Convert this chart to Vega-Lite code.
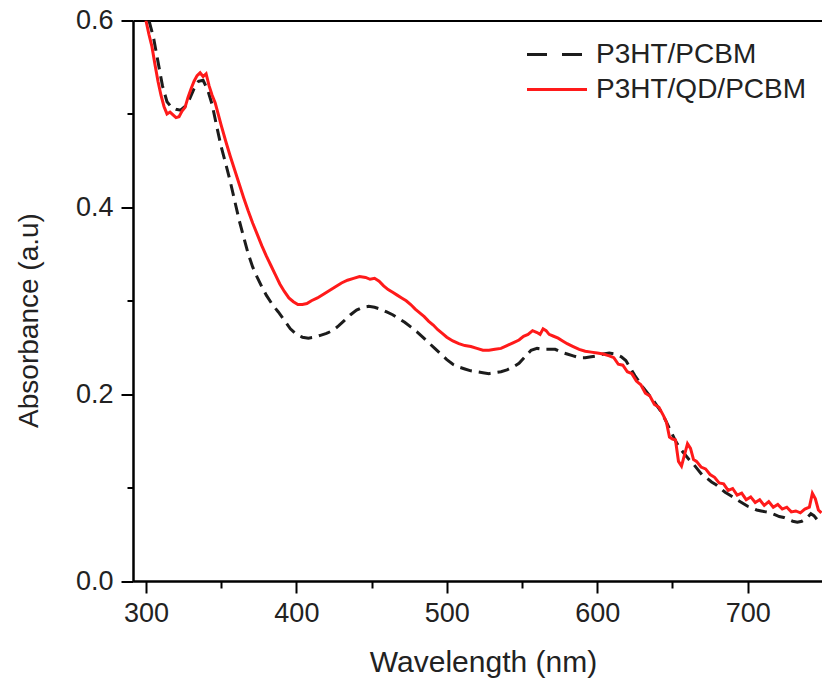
{
  "$schema": "https://vega.github.io/schema/vega-lite/v6.json",
  "autosize": "none",
  "width": 689,
  "height": 560.5,
  "padding": {"left": 133, "top": 20.5, "right": 0, "bottom": 103},
  "background": "white",
  "config": {
    "view": {"stroke": null},
    "font": "Liberation Sans",
    "axis": {
      "domainColor": "#000",
      "domainWidth": 2,
      "tickColor": "#000",
      "tickWidth": 2,
      "labelFont": "Liberation Sans",
      "labelFontSize": 27,
      "labelColor": "#222",
      "titleFont": "Liberation Sans",
      "titleFontWeight": "normal",
      "titleColor": "#222",
      "grid": false
    }
  },
  "datasets": {
    "black": [
      {"wl": 302, "abs": 0.600, "series": "P3HT/PCBM"},
      {"wl": 305, "abs": 0.582, "series": "P3HT/PCBM"},
      {"wl": 308, "abs": 0.556, "series": "P3HT/PCBM"},
      {"wl": 311, "abs": 0.530, "series": "P3HT/PCBM"},
      {"wl": 314, "abs": 0.513, "series": "P3HT/PCBM"},
      {"wl": 317, "abs": 0.507, "series": "P3HT/PCBM"},
      {"wl": 320, "abs": 0.505, "series": "P3HT/PCBM"},
      {"wl": 323, "abs": 0.504, "series": "P3HT/PCBM"},
      {"wl": 326, "abs": 0.508, "series": "P3HT/PCBM"},
      {"wl": 329, "abs": 0.516, "series": "P3HT/PCBM"},
      {"wl": 332, "abs": 0.527, "series": "P3HT/PCBM"},
      {"wl": 335, "abs": 0.535, "series": "P3HT/PCBM"},
      {"wl": 338, "abs": 0.536, "series": "P3HT/PCBM"},
      {"wl": 341, "abs": 0.526, "series": "P3HT/PCBM"},
      {"wl": 344, "abs": 0.510, "series": "P3HT/PCBM"},
      {"wl": 347, "abs": 0.487, "series": "P3HT/PCBM"},
      {"wl": 350, "abs": 0.465, "series": "P3HT/PCBM"},
      {"wl": 353, "abs": 0.447, "series": "P3HT/PCBM"},
      {"wl": 356, "abs": 0.428, "series": "P3HT/PCBM"},
      {"wl": 359, "abs": 0.407, "series": "P3HT/PCBM"},
      {"wl": 362, "abs": 0.386, "series": "P3HT/PCBM"},
      {"wl": 365, "abs": 0.368, "series": "P3HT/PCBM"},
      {"wl": 368, "abs": 0.350, "series": "P3HT/PCBM"},
      {"wl": 371, "abs": 0.336, "series": "P3HT/PCBM"},
      {"wl": 374, "abs": 0.325, "series": "P3HT/PCBM"},
      {"wl": 377, "abs": 0.315, "series": "P3HT/PCBM"},
      {"wl": 380, "abs": 0.306, "series": "P3HT/PCBM"},
      {"wl": 384, "abs": 0.296, "series": "P3HT/PCBM"},
      {"wl": 388, "abs": 0.288, "series": "P3HT/PCBM"},
      {"wl": 392, "abs": 0.279, "series": "P3HT/PCBM"},
      {"wl": 396, "abs": 0.270, "series": "P3HT/PCBM"},
      {"wl": 400, "abs": 0.264, "series": "P3HT/PCBM"},
      {"wl": 404, "abs": 0.261, "series": "P3HT/PCBM"},
      {"wl": 408, "abs": 0.260, "series": "P3HT/PCBM"},
      {"wl": 412, "abs": 0.261, "series": "P3HT/PCBM"},
      {"wl": 416, "abs": 0.263, "series": "P3HT/PCBM"},
      {"wl": 420, "abs": 0.265, "series": "P3HT/PCBM"},
      {"wl": 424, "abs": 0.268, "series": "P3HT/PCBM"},
      {"wl": 428, "abs": 0.273, "series": "P3HT/PCBM"},
      {"wl": 432, "abs": 0.279, "series": "P3HT/PCBM"},
      {"wl": 436, "abs": 0.285, "series": "P3HT/PCBM"},
      {"wl": 440, "abs": 0.290, "series": "P3HT/PCBM"},
      {"wl": 444, "abs": 0.293, "series": "P3HT/PCBM"},
      {"wl": 448, "abs": 0.294, "series": "P3HT/PCBM"},
      {"wl": 452, "abs": 0.293, "series": "P3HT/PCBM"},
      {"wl": 456, "abs": 0.291, "series": "P3HT/PCBM"},
      {"wl": 460, "abs": 0.288, "series": "P3HT/PCBM"},
      {"wl": 464, "abs": 0.285, "series": "P3HT/PCBM"},
      {"wl": 468, "abs": 0.281, "series": "P3HT/PCBM"},
      {"wl": 472, "abs": 0.277, "series": "P3HT/PCBM"},
      {"wl": 476, "abs": 0.272, "series": "P3HT/PCBM"},
      {"wl": 480, "abs": 0.267, "series": "P3HT/PCBM"},
      {"wl": 484, "abs": 0.261, "series": "P3HT/PCBM"},
      {"wl": 488, "abs": 0.255, "series": "P3HT/PCBM"},
      {"wl": 492, "abs": 0.249, "series": "P3HT/PCBM"},
      {"wl": 496, "abs": 0.243, "series": "P3HT/PCBM"},
      {"wl": 500, "abs": 0.237, "series": "P3HT/PCBM"},
      {"wl": 504, "abs": 0.232, "series": "P3HT/PCBM"},
      {"wl": 508, "abs": 0.229, "series": "P3HT/PCBM"},
      {"wl": 512, "abs": 0.227, "series": "P3HT/PCBM"},
      {"wl": 516, "abs": 0.225, "series": "P3HT/PCBM"},
      {"wl": 520, "abs": 0.224, "series": "P3HT/PCBM"},
      {"wl": 524, "abs": 0.223, "series": "P3HT/PCBM"},
      {"wl": 528, "abs": 0.222, "series": "P3HT/PCBM"},
      {"wl": 532, "abs": 0.223, "series": "P3HT/PCBM"},
      {"wl": 536, "abs": 0.224, "series": "P3HT/PCBM"},
      {"wl": 540, "abs": 0.226, "series": "P3HT/PCBM"},
      {"wl": 544, "abs": 0.229, "series": "P3HT/PCBM"},
      {"wl": 548, "abs": 0.233, "series": "P3HT/PCBM"},
      {"wl": 552, "abs": 0.240, "series": "P3HT/PCBM"},
      {"wl": 556, "abs": 0.247, "series": "P3HT/PCBM"},
      {"wl": 560, "abs": 0.249, "series": "P3HT/PCBM"},
      {"wl": 564, "abs": 0.248, "series": "P3HT/PCBM"},
      {"wl": 568, "abs": 0.248, "series": "P3HT/PCBM"},
      {"wl": 572, "abs": 0.248, "series": "P3HT/PCBM"},
      {"wl": 576, "abs": 0.245, "series": "P3HT/PCBM"},
      {"wl": 580, "abs": 0.243, "series": "P3HT/PCBM"},
      {"wl": 584, "abs": 0.241, "series": "P3HT/PCBM"},
      {"wl": 588, "abs": 0.239, "series": "P3HT/PCBM"},
      {"wl": 592, "abs": 0.239, "series": "P3HT/PCBM"},
      {"wl": 596, "abs": 0.240, "series": "P3HT/PCBM"},
      {"wl": 600, "abs": 0.241, "series": "P3HT/PCBM"},
      {"wl": 604, "abs": 0.243, "series": "P3HT/PCBM"},
      {"wl": 608, "abs": 0.244, "series": "P3HT/PCBM"},
      {"wl": 612, "abs": 0.243, "series": "P3HT/PCBM"},
      {"wl": 616, "abs": 0.240, "series": "P3HT/PCBM"},
      {"wl": 619, "abs": 0.236, "series": "P3HT/PCBM"},
      {"wl": 622, "abs": 0.228, "series": "P3HT/PCBM"},
      {"wl": 625, "abs": 0.220, "series": "P3HT/PCBM"},
      {"wl": 628, "abs": 0.213, "series": "P3HT/PCBM"},
      {"wl": 631, "abs": 0.206, "series": "P3HT/PCBM"},
      {"wl": 634, "abs": 0.200, "series": "P3HT/PCBM"},
      {"wl": 637, "abs": 0.194, "series": "P3HT/PCBM"},
      {"wl": 640, "abs": 0.187, "series": "P3HT/PCBM"},
      {"wl": 643, "abs": 0.180, "series": "P3HT/PCBM"},
      {"wl": 646, "abs": 0.170, "series": "P3HT/PCBM"},
      {"wl": 649, "abs": 0.160, "series": "P3HT/PCBM"},
      {"wl": 652, "abs": 0.150, "series": "P3HT/PCBM"},
      {"wl": 655, "abs": 0.142, "series": "P3HT/PCBM"},
      {"wl": 658, "abs": 0.136, "series": "P3HT/PCBM"},
      {"wl": 661, "abs": 0.130, "series": "P3HT/PCBM"},
      {"wl": 664, "abs": 0.125, "series": "P3HT/PCBM"},
      {"wl": 667, "abs": 0.119, "series": "P3HT/PCBM"},
      {"wl": 670, "abs": 0.113, "series": "P3HT/PCBM"},
      {"wl": 673, "abs": 0.110, "series": "P3HT/PCBM"},
      {"wl": 676, "abs": 0.106, "series": "P3HT/PCBM"},
      {"wl": 679, "abs": 0.103, "series": "P3HT/PCBM"},
      {"wl": 682, "abs": 0.099, "series": "P3HT/PCBM"},
      {"wl": 685, "abs": 0.095, "series": "P3HT/PCBM"},
      {"wl": 688, "abs": 0.092, "series": "P3HT/PCBM"},
      {"wl": 691, "abs": 0.089, "series": "P3HT/PCBM"},
      {"wl": 694, "abs": 0.086, "series": "P3HT/PCBM"},
      {"wl": 697, "abs": 0.083, "series": "P3HT/PCBM"},
      {"wl": 700, "abs": 0.080, "series": "P3HT/PCBM"},
      {"wl": 703, "abs": 0.078, "series": "P3HT/PCBM"},
      {"wl": 706, "abs": 0.076, "series": "P3HT/PCBM"},
      {"wl": 709, "abs": 0.075, "series": "P3HT/PCBM"},
      {"wl": 712, "abs": 0.074, "series": "P3HT/PCBM"},
      {"wl": 715, "abs": 0.073, "series": "P3HT/PCBM"},
      {"wl": 718, "abs": 0.071, "series": "P3HT/PCBM"},
      {"wl": 721, "abs": 0.069, "series": "P3HT/PCBM"},
      {"wl": 724, "abs": 0.068, "series": "P3HT/PCBM"},
      {"wl": 727, "abs": 0.066, "series": "P3HT/PCBM"},
      {"wl": 730, "abs": 0.064, "series": "P3HT/PCBM"},
      {"wl": 733, "abs": 0.063, "series": "P3HT/PCBM"},
      {"wl": 736, "abs": 0.064, "series": "P3HT/PCBM"},
      {"wl": 739, "abs": 0.067, "series": "P3HT/PCBM"},
      {"wl": 742, "abs": 0.072, "series": "P3HT/PCBM"},
      {"wl": 744, "abs": 0.070, "series": "P3HT/PCBM"},
      {"wl": 746, "abs": 0.066, "series": "P3HT/PCBM"},
      {"wl": 749, "abs": 0.066, "series": "P3HT/PCBM"}
    ],
    "red": [
      {"wl": 300, "abs": 0.600, "series": "P3HT/QD/PCBM"},
      {"wl": 302, "abs": 0.585, "series": "P3HT/QD/PCBM"},
      {"wl": 304, "abs": 0.572, "series": "P3HT/QD/PCBM"},
      {"wl": 306, "abs": 0.553, "series": "P3HT/QD/PCBM"},
      {"wl": 308, "abs": 0.535, "series": "P3HT/QD/PCBM"},
      {"wl": 310, "abs": 0.520, "series": "P3HT/QD/PCBM"},
      {"wl": 312, "abs": 0.508, "series": "P3HT/QD/PCBM"},
      {"wl": 314, "abs": 0.500, "series": "P3HT/QD/PCBM"},
      {"wl": 316, "abs": 0.502, "series": "P3HT/QD/PCBM"},
      {"wl": 318, "abs": 0.499, "series": "P3HT/QD/PCBM"},
      {"wl": 320, "abs": 0.496, "series": "P3HT/QD/PCBM"},
      {"wl": 322, "abs": 0.497, "series": "P3HT/QD/PCBM"},
      {"wl": 324, "abs": 0.503, "series": "P3HT/QD/PCBM"},
      {"wl": 326, "abs": 0.507, "series": "P3HT/QD/PCBM"},
      {"wl": 328, "abs": 0.518, "series": "P3HT/QD/PCBM"},
      {"wl": 330, "abs": 0.527, "series": "P3HT/QD/PCBM"},
      {"wl": 332, "abs": 0.535, "series": "P3HT/QD/PCBM"},
      {"wl": 334, "abs": 0.541, "series": "P3HT/QD/PCBM"},
      {"wl": 336, "abs": 0.544, "series": "P3HT/QD/PCBM"},
      {"wl": 338, "abs": 0.540, "series": "P3HT/QD/PCBM"},
      {"wl": 340, "abs": 0.543, "series": "P3HT/QD/PCBM"},
      {"wl": 342, "abs": 0.530, "series": "P3HT/QD/PCBM"},
      {"wl": 344, "abs": 0.520, "series": "P3HT/QD/PCBM"},
      {"wl": 346, "abs": 0.512, "series": "P3HT/QD/PCBM"},
      {"wl": 348, "abs": 0.500, "series": "P3HT/QD/PCBM"},
      {"wl": 350, "abs": 0.488, "series": "P3HT/QD/PCBM"},
      {"wl": 353, "abs": 0.471, "series": "P3HT/QD/PCBM"},
      {"wl": 356, "abs": 0.455, "series": "P3HT/QD/PCBM"},
      {"wl": 359, "abs": 0.440, "series": "P3HT/QD/PCBM"},
      {"wl": 362, "abs": 0.425, "series": "P3HT/QD/PCBM"},
      {"wl": 365, "abs": 0.410, "series": "P3HT/QD/PCBM"},
      {"wl": 368, "abs": 0.396, "series": "P3HT/QD/PCBM"},
      {"wl": 371, "abs": 0.383, "series": "P3HT/QD/PCBM"},
      {"wl": 374, "abs": 0.371, "series": "P3HT/QD/PCBM"},
      {"wl": 377, "abs": 0.359, "series": "P3HT/QD/PCBM"},
      {"wl": 380, "abs": 0.348, "series": "P3HT/QD/PCBM"},
      {"wl": 383, "abs": 0.338, "series": "P3HT/QD/PCBM"},
      {"wl": 386, "abs": 0.328, "series": "P3HT/QD/PCBM"},
      {"wl": 389, "abs": 0.318, "series": "P3HT/QD/PCBM"},
      {"wl": 392, "abs": 0.310, "series": "P3HT/QD/PCBM"},
      {"wl": 395, "abs": 0.303, "series": "P3HT/QD/PCBM"},
      {"wl": 398, "abs": 0.299, "series": "P3HT/QD/PCBM"},
      {"wl": 401, "abs": 0.296, "series": "P3HT/QD/PCBM"},
      {"wl": 404, "abs": 0.296, "series": "P3HT/QD/PCBM"},
      {"wl": 407, "abs": 0.297, "series": "P3HT/QD/PCBM"},
      {"wl": 410, "abs": 0.300, "series": "P3HT/QD/PCBM"},
      {"wl": 414, "abs": 0.303, "series": "P3HT/QD/PCBM"},
      {"wl": 418, "abs": 0.307, "series": "P3HT/QD/PCBM"},
      {"wl": 422, "abs": 0.311, "series": "P3HT/QD/PCBM"},
      {"wl": 426, "abs": 0.315, "series": "P3HT/QD/PCBM"},
      {"wl": 430, "abs": 0.319, "series": "P3HT/QD/PCBM"},
      {"wl": 434, "abs": 0.322, "series": "P3HT/QD/PCBM"},
      {"wl": 438, "abs": 0.324, "series": "P3HT/QD/PCBM"},
      {"wl": 442, "abs": 0.326, "series": "P3HT/QD/PCBM"},
      {"wl": 446, "abs": 0.325, "series": "P3HT/QD/PCBM"},
      {"wl": 449, "abs": 0.323, "series": "P3HT/QD/PCBM"},
      {"wl": 452, "abs": 0.324, "series": "P3HT/QD/PCBM"},
      {"wl": 455, "abs": 0.321, "series": "P3HT/QD/PCBM"},
      {"wl": 458, "abs": 0.316, "series": "P3HT/QD/PCBM"},
      {"wl": 461, "abs": 0.312, "series": "P3HT/QD/PCBM"},
      {"wl": 464, "abs": 0.309, "series": "P3HT/QD/PCBM"},
      {"wl": 467, "abs": 0.306, "series": "P3HT/QD/PCBM"},
      {"wl": 470, "abs": 0.303, "series": "P3HT/QD/PCBM"},
      {"wl": 473, "abs": 0.300, "series": "P3HT/QD/PCBM"},
      {"wl": 476, "abs": 0.296, "series": "P3HT/QD/PCBM"},
      {"wl": 479, "abs": 0.291, "series": "P3HT/QD/PCBM"},
      {"wl": 482, "abs": 0.287, "series": "P3HT/QD/PCBM"},
      {"wl": 485, "abs": 0.283, "series": "P3HT/QD/PCBM"},
      {"wl": 488, "abs": 0.278, "series": "P3HT/QD/PCBM"},
      {"wl": 491, "abs": 0.274, "series": "P3HT/QD/PCBM"},
      {"wl": 494, "abs": 0.269, "series": "P3HT/QD/PCBM"},
      {"wl": 497, "abs": 0.265, "series": "P3HT/QD/PCBM"},
      {"wl": 500, "abs": 0.261, "series": "P3HT/QD/PCBM"},
      {"wl": 504, "abs": 0.257, "series": "P3HT/QD/PCBM"},
      {"wl": 508, "abs": 0.254, "series": "P3HT/QD/PCBM"},
      {"wl": 512, "abs": 0.252, "series": "P3HT/QD/PCBM"},
      {"wl": 516, "abs": 0.251, "series": "P3HT/QD/PCBM"},
      {"wl": 520, "abs": 0.249, "series": "P3HT/QD/PCBM"},
      {"wl": 524, "abs": 0.247, "series": "P3HT/QD/PCBM"},
      {"wl": 528, "abs": 0.247, "series": "P3HT/QD/PCBM"},
      {"wl": 532, "abs": 0.248, "series": "P3HT/QD/PCBM"},
      {"wl": 536, "abs": 0.249, "series": "P3HT/QD/PCBM"},
      {"wl": 540, "abs": 0.252, "series": "P3HT/QD/PCBM"},
      {"wl": 544, "abs": 0.255, "series": "P3HT/QD/PCBM"},
      {"wl": 548, "abs": 0.258, "series": "P3HT/QD/PCBM"},
      {"wl": 551, "abs": 0.262, "series": "P3HT/QD/PCBM"},
      {"wl": 554, "abs": 0.264, "series": "P3HT/QD/PCBM"},
      {"wl": 557, "abs": 0.268, "series": "P3HT/QD/PCBM"},
      {"wl": 560, "abs": 0.266, "series": "P3HT/QD/PCBM"},
      {"wl": 562, "abs": 0.264, "series": "P3HT/QD/PCBM"},
      {"wl": 564, "abs": 0.270, "series": "P3HT/QD/PCBM"},
      {"wl": 566, "abs": 0.268, "series": "P3HT/QD/PCBM"},
      {"wl": 568, "abs": 0.264, "series": "P3HT/QD/PCBM"},
      {"wl": 571, "abs": 0.262, "series": "P3HT/QD/PCBM"},
      {"wl": 574, "abs": 0.260, "series": "P3HT/QD/PCBM"},
      {"wl": 577, "abs": 0.257, "series": "P3HT/QD/PCBM"},
      {"wl": 580, "abs": 0.254, "series": "P3HT/QD/PCBM"},
      {"wl": 584, "abs": 0.251, "series": "P3HT/QD/PCBM"},
      {"wl": 588, "abs": 0.248, "series": "P3HT/QD/PCBM"},
      {"wl": 592, "abs": 0.246, "series": "P3HT/QD/PCBM"},
      {"wl": 596, "abs": 0.245, "series": "P3HT/QD/PCBM"},
      {"wl": 600, "abs": 0.244, "series": "P3HT/QD/PCBM"},
      {"wl": 604, "abs": 0.243, "series": "P3HT/QD/PCBM"},
      {"wl": 608, "abs": 0.241, "series": "P3HT/QD/PCBM"},
      {"wl": 611, "abs": 0.239, "series": "P3HT/QD/PCBM"},
      {"wl": 614, "abs": 0.232, "series": "P3HT/QD/PCBM"},
      {"wl": 617, "abs": 0.231, "series": "P3HT/QD/PCBM"},
      {"wl": 620, "abs": 0.224, "series": "P3HT/QD/PCBM"},
      {"wl": 623, "abs": 0.222, "series": "P3HT/QD/PCBM"},
      {"wl": 626, "abs": 0.214, "series": "P3HT/QD/PCBM"},
      {"wl": 629, "abs": 0.210, "series": "P3HT/QD/PCBM"},
      {"wl": 632, "abs": 0.201, "series": "P3HT/QD/PCBM"},
      {"wl": 635, "abs": 0.198, "series": "P3HT/QD/PCBM"},
      {"wl": 638, "abs": 0.189, "series": "P3HT/QD/PCBM"},
      {"wl": 641, "abs": 0.186, "series": "P3HT/QD/PCBM"},
      {"wl": 644, "abs": 0.177, "series": "P3HT/QD/PCBM"},
      {"wl": 646, "abs": 0.170, "series": "P3HT/QD/PCBM"},
      {"wl": 648, "abs": 0.154, "series": "P3HT/QD/PCBM"},
      {"wl": 650, "abs": 0.152, "series": "P3HT/QD/PCBM"},
      {"wl": 652, "abs": 0.151, "series": "P3HT/QD/PCBM"},
      {"wl": 654, "abs": 0.128, "series": "P3HT/QD/PCBM"},
      {"wl": 656, "abs": 0.123, "series": "P3HT/QD/PCBM"},
      {"wl": 658, "abs": 0.135, "series": "P3HT/QD/PCBM"},
      {"wl": 660, "abs": 0.147, "series": "P3HT/QD/PCBM"},
      {"wl": 662, "abs": 0.142, "series": "P3HT/QD/PCBM"},
      {"wl": 664, "abs": 0.130, "series": "P3HT/QD/PCBM"},
      {"wl": 666, "abs": 0.128, "series": "P3HT/QD/PCBM"},
      {"wl": 669, "abs": 0.122, "series": "P3HT/QD/PCBM"},
      {"wl": 672, "abs": 0.120, "series": "P3HT/QD/PCBM"},
      {"wl": 675, "abs": 0.114, "series": "P3HT/QD/PCBM"},
      {"wl": 678, "abs": 0.111, "series": "P3HT/QD/PCBM"},
      {"wl": 681, "abs": 0.105, "series": "P3HT/QD/PCBM"},
      {"wl": 684, "abs": 0.104, "series": "P3HT/QD/PCBM"},
      {"wl": 687, "abs": 0.097, "series": "P3HT/QD/PCBM"},
      {"wl": 690, "abs": 0.099, "series": "P3HT/QD/PCBM"},
      {"wl": 693, "abs": 0.092, "series": "P3HT/QD/PCBM"},
      {"wl": 696, "abs": 0.094, "series": "P3HT/QD/PCBM"},
      {"wl": 699, "abs": 0.087, "series": "P3HT/QD/PCBM"},
      {"wl": 702, "abs": 0.090, "series": "P3HT/QD/PCBM"},
      {"wl": 705, "abs": 0.084, "series": "P3HT/QD/PCBM"},
      {"wl": 708, "abs": 0.087, "series": "P3HT/QD/PCBM"},
      {"wl": 711, "abs": 0.081, "series": "P3HT/QD/PCBM"},
      {"wl": 714, "abs": 0.085, "series": "P3HT/QD/PCBM"},
      {"wl": 717, "abs": 0.079, "series": "P3HT/QD/PCBM"},
      {"wl": 720, "abs": 0.082, "series": "P3HT/QD/PCBM"},
      {"wl": 723, "abs": 0.077, "series": "P3HT/QD/PCBM"},
      {"wl": 726, "abs": 0.079, "series": "P3HT/QD/PCBM"},
      {"wl": 729, "abs": 0.074, "series": "P3HT/QD/PCBM"},
      {"wl": 732, "abs": 0.075, "series": "P3HT/QD/PCBM"},
      {"wl": 735, "abs": 0.073, "series": "P3HT/QD/PCBM"},
      {"wl": 738, "abs": 0.077, "series": "P3HT/QD/PCBM"},
      {"wl": 741, "abs": 0.079, "series": "P3HT/QD/PCBM"},
      {"wl": 743, "abs": 0.094, "series": "P3HT/QD/PCBM"},
      {"wl": 745, "abs": 0.088, "series": "P3HT/QD/PCBM"},
      {"wl": 747, "abs": 0.076, "series": "P3HT/QD/PCBM"},
      {"wl": 749, "abs": 0.073, "series": "P3HT/QD/PCBM"}
    ]
  },
  "resolve": {"axis": {"x": "independent", "y": "independent"}},
  "layer": [
    {
      "data": {"name": "black"},
      "mark": {"type": "line", "strokeWidth": 3, "strokeDash": [12, 7], "clip": true},
      "encoding": {
        "x": {
          "field": "wl", "type": "quantitative",
          "scale": {"domain": [291.4, 749.4], "nice": false, "zero": false},
          "axis": {
            "orient": "bottom", "values": [300, 400, 500, 600, 700], "format": "d",
            "tickSize": 12, "labelPadding": 7,
            "title": "Wavelength (nm)", "titleFontSize": 30,
            "titleBaseline": "alphabetic", "titleX": 350, "titleY": 90.7, "titleAlign": "center"
          }
        },
        "y": {
          "field": "abs", "type": "quantitative",
          "scale": {"domain": [0, 0.6], "nice": false},
          "axis": {
            "orient": "left", "values": [0, 0.2, 0.4, 0.6], "format": ".1f",
            "tickSize": 12, "labelPadding": 8,
            "title": "Absorbance (a.u)", "titleFontSize": 28,
            "titleBaseline": "alphabetic", "titleX": -96, "titleY": 299.5, "titleAlign": "center", "titleAngle": 270
          }
        },
        "color": {
          "field": "series", "type": "nominal",
          "scale": {"domain": ["P3HT/PCBM", "P3HT/QD/PCBM"], "range": ["#1c1c1c", "#ff1a1a"]},
          "legend": {
            "orient": "none", "legendX": 410, "legendY": 20,
            "title": null, "padding": 0, "rowPadding": 7,
            "labelFont": "Liberation Sans", "labelFontSize": 28, "labelColor": "#222", "labelLimit": 400,
            "labelOffset": 25,
            "symbolType": "M-3,0H3", "symbolSize": 400, "symbolStrokeWidth": 3,
            "encode": {
              "symbols": {
                "update": {
                  "strokeDash": {"signal": "datum.value === 'P3HT/PCBM' ? [20, 15] : [1, 0]"},
                  "strokeWidth": {"value": 3},
                  "fill": {"value": "transparent"}
                }
              }
            }
          }
        }
      }
    },
    {
      "data": {"name": "red"},
      "mark": {"type": "line", "strokeWidth": 3, "clip": true},
      "encoding": {
        "x": {
          "field": "wl", "type": "quantitative",
          "axis": {
            "orient": "bottom", "values": [350, 450, 550, 650], "tickSize": 7,
            "labels": false, "title": null
          }
        },
        "y": {
          "field": "abs", "type": "quantitative",
          "axis": {
            "orient": "left", "values": [0.1, 0.3, 0.5], "tickSize": 6,
            "labels": false, "title": null
          }
        },
        "color": {"field": "series", "type": "nominal"}
      }
    },
    {
      "data": {"name": "red"},
      "mark": {"type": "line", "strokeWidth": 3, "opacity": 0, "clip": true},
      "encoding": {
        "x": {
          "field": "wl", "type": "quantitative",
          "axis": {"orient": "top", "ticks": false, "labels": false, "title": null}
        },
        "y": {"field": "abs", "type": "quantitative", "axis": null}
      }
    }
  ]
}
